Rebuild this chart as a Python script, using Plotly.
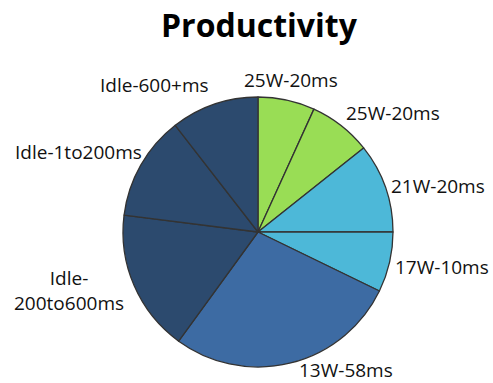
import plotly.graph_objects as go

W, H = 493, 383

categories = ["25W-20ms", "25W-20ms", "21W-20ms", "17W-10ms", "13W-58ms",
              "Idle-200to600ms", "Idle-1to200ms", "Idle-600+ms"]
shares = [6.8, 7.5, 10.7, 7.2, 27.8, 17.0, 12.5, 10.5]
colors = ["#99DD55", "#99DD55", "#4DB8D8", "#4DB8D8", "#3D6BA3",
          "#2C4A6E", "#2C4A6E", "#2C4A6E"]

# label display text and pixel centres (layout only)
label_text = ["25W-20ms", "25W-20ms", "21W-20ms", "17W-10ms", "13W-58ms",
              "Idle-<br>200to600ms", "Idle-1to200ms", "Idle-600+ms"]
label_px = [(291, 80), (393, 113), (438, 186), (442, 267), (346, 370),
            (69, 290), (78, 152), (154, 85)]

cx, cy, r = 258, 232, 135

fig = go.Figure(go.Pie(
    values=shares,
    text=categories,
    hovertemplate="%{text}: %{value}<extra></extra>",
    sort=False,
    direction="clockwise",
    rotation=0,
    textinfo="none",
    marker=dict(colors=colors, line=dict(color="#333333", width=1.3)),
    domain=dict(x=[(cx - r) / W, (cx + r) / W],
                y=[(H - cy - r) / H, (H - cy + r) / H]),
    showlegend=False,
))

anns = []
for t, (px, py) in zip(label_text, label_px):
    anns.append(dict(x=px / W, y=1 - py / H, xref="paper", yref="paper",
                     text=t, showarrow=False, xanchor="center", yanchor="middle",
                     font=dict(family="Open Sans", size=19, color="#111111")))
anns.append(dict(x=259 / W, y=1 - 25 / H, xref="paper", yref="paper",
                 text="<b>Productivity</b>", showarrow=False,
                 xanchor="center", yanchor="middle",
                 font=dict(family="Open Sans", size=32, color="#000000")))

fig.update_layout(
    width=W, height=H,
    margin=dict(l=0, r=0, t=0, b=0),
    paper_bgcolor="white",
    plot_bgcolor="white",
    annotations=anns,
)

fig.write_html("out.html")
